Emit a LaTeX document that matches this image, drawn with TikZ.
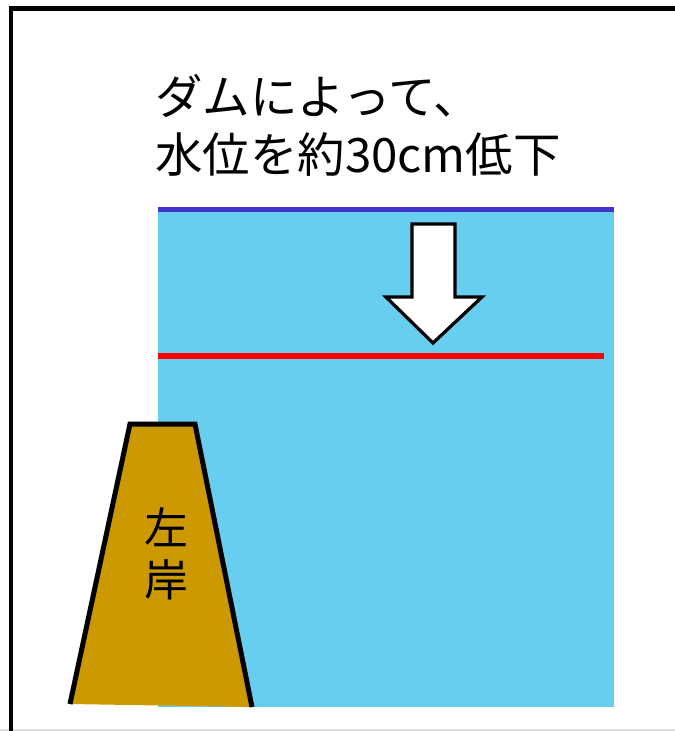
\documentclass[tikz,border=0pt]{standalone}
\usepackage{fontspec}
\newfontfamily\jpfont{Noto Sans CJK JP}
\definecolor{water}{HTML}{68CEF0}
\definecolor{oldlevel}{HTML}{4433C8}
\definecolor{newlevel}{HTML}{FF0000}
\definecolor{bank}{HTML}{CC9900}

\tikzstyle{title} = [font=\jpfont\fontsize{27}{33}\selectfont, inner sep=0pt, anchor=base west]
\tikzstyle{banklabel} = [font=\jpfont\fontsize{25}{29.5}\selectfont, inner sep=0pt, align=center]
\tikzstyle{level} = [line width=0.11cm]
\tikzstyle{outline} = [draw=black, line width=0.1cm, line join=miter]

\begin{document}
\begin{tikzpicture}[x=0.02cm, y=-0.02cm]
      \useasboundingbox (0,0) rectangle (675,731);
      % frame
      \draw [gray!25, line width=0.04cm] (0,730) -- (675,730);
      \draw [line width=0.1cm] (11,731) -- (11,8.5) -- (675,8.5);

      % text
      \node (line1) [title] at (155,114) {ダムによって、};
      \node (line2) [title] at (155,172) {水位を約30cm低下};

      % water and levels
      \fill [water] (158,207) rectangle (614,707);
      \coordinate (oldl) at (158,209.5);
      \coordinate (oldr) at (614,209.5);
      \coordinate (newl) at (158,356);
      \coordinate (newr) at (604,356);
      \draw [level, oldlevel] (oldl) -- (oldr);
      \draw [level, newlevel] (newl) -- (newr);

      % arrow
      \filldraw [fill=white, draw=black, line width=0.065cm]
        (412,224) -- (455,224) -- (455,297) -- (482,297) -- (433,343)
        -- (386,297) -- (412,297) -- cycle;

      % left bank
      \fill [bank] (70,704) -- (130,424) -- (195,424) -- (252,707) -- cycle;
      \draw [outline] (70,704) -- (130,424) -- (195,424) -- (252,707);
      \node (bankname) [banklabel] at (166,554) {左\\岸};
    \end{tikzpicture}
\end{document}
